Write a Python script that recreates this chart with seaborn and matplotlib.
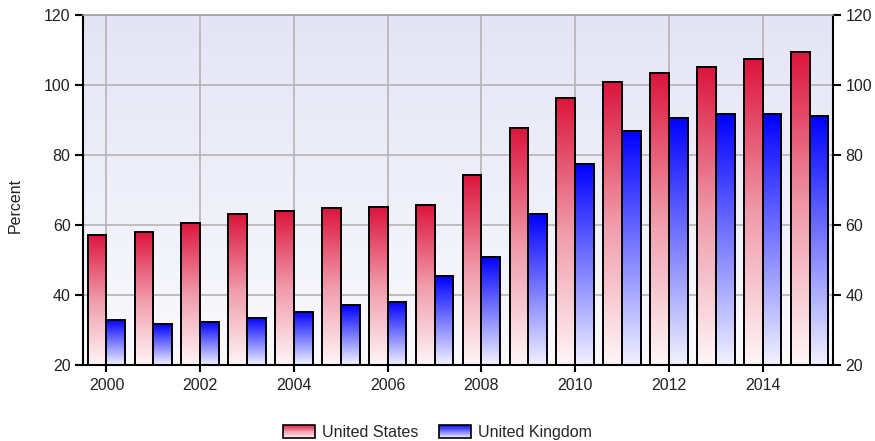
import numpy as np
import pandas as pd
import matplotlib
matplotlib.use("Agg")
import matplotlib.pyplot as plt
import seaborn as sns
from matplotlib.colors import LinearSegmentedColormap
from matplotlib.legend_handler import HandlerBase
from matplotlib.patches import Rectangle

# ---- data ----
years = list(range(2000, 2016))
us_values = [57.2, 58.1, 60.6, 63.1, 64.1, 64.9, 65.1, 65.8,
             74.3, 87.6, 96.4, 100.9, 103.5, 105.2, 107.3, 109.3]
uk_values = [33.0, 31.7, 32.4, 33.5, 35.2, 37.1, 37.9, 45.3,
             50.9, 63.1, 77.5, 86.9, 90.6, 91.6, 91.8, 91.2]
series_names = ["United States", "United Kingdom"]
y_ticks = [20, 40, 60, 80, 100, 120]
x_tick_labels = [str(y) for y in years if y % 2 == 0]

df = pd.DataFrame({
    "Year": [str(y) for y in years] * 2,
    "Percent": us_values + uk_values,
    "Country": [series_names[0]] * len(years) + [series_names[1]] * len(years),
})

# ---- styling ----
sns.set_theme(style="white")
plt.rcParams["font.family"] = ["Liberation Sans", "DejaVu Sans"]
FS = 11.5
plt.rcParams["font.size"] = FS

red_cmap = LinearSegmentedColormap.from_list("red_grad", ["#fff6f8", "#f09aaa", "#dc143c"])
blue_cmap = LinearSegmentedColormap.from_list("blue_grad", ["#f2f2ff", "#7a7aff", "#0000ff"])
bg_cmap = LinearSegmentedColormap.from_list("bg_grad", ["#fafafd", "#e4e4f6"])
cmaps = [red_cmap, blue_cmap]

fig = plt.figure(figsize=(8.75, 4.41), dpi=100)
ax = fig.add_axes([83 / 875, 1 - 365 / 441, (833 - 83) / 875, (365 - 15) / 441])

sns.barplot(data=df, x="Year", y="Percent", hue="Country", hue_order=series_names,
            palette=["#dc143c", "#0000ff"], saturation=1, width=0.8,
            edgecolor="black", linewidth=1.4, legend=False, ax=ax)

y_lo, y_hi = 20, 120
x_lo, x_hi = -0.5, len(years) - 0.5

# plot-area background gradient
grad = np.linspace(0, 1, 256).reshape(-1, 1)
ax.imshow(grad, cmap=bg_cmap, origin="lower", aspect="auto",
          extent=[0, 1, 0, 1], transform=ax.transAxes, zorder=0)

# gradient fill for every bar, clipped to its own rectangle
for container, cmap in zip(ax.containers, cmaps):
    for bar in container:
        x0 = bar.get_x()
        w = bar.get_width()
        top = bar.get_y() + bar.get_height()
        bar.set_facecolor("none")
        bar.set_zorder(3)
        im = ax.imshow(grad, cmap=cmap, origin="lower", aspect="auto",
                       extent=[x0, x0 + w, y_lo, top], zorder=2)
        im.set_clip_path(bar)

ax.set_xlim(x_lo, x_hi)
ax.set_ylim(y_lo, y_hi)

# grid
ax.set_yticks(y_ticks)
ax.set_xticks([i for i, y in enumerate(years) if y % 2 == 0])
ax.set_xticklabels(x_tick_labels)
for yv in y_ticks:
    ax.axhline(yv, color="#b4b4b4", lw=1.2, zorder=1)
for i, y in enumerate(years):
    if y % 2 == 0:
        ax.axvline(i, color="#b4b4b4", lw=1.2, zorder=1)

ax.set_xlabel("")
ax.set_ylabel("Percent", fontsize=FS, color="#222222")
ax.yaxis.set_label_coords(-0.080, 0.457)

for side in ["left", "right", "bottom"]:
    ax.spines[side].set_color("black")
    ax.spines[side].set_linewidth(1.5)
ax.spines["top"].set_color("#a0a0a0")
ax.spines["top"].set_linewidth(1.2)

ax.tick_params(axis="y", which="both", left=True, right=True, labelleft=True, labelright=True,
               direction="out", length=6, width=1.5, color="black", labelsize=FS,
               labelcolor="#222222", pad=3)
ax.tick_params(axis="x", bottom=True, direction="out", length=5, width=1.5, color="black",
               labelsize=FS, labelcolor="#222222", pad=4)


class GradientHandler(HandlerBase):
    def __init__(self, cmap):
        super().__init__()
        self.cmap = cmap

    def create_artists(self, legend, orig_handle, xdescent, ydescent,
                       width, height, fontsize, trans):
        x0, y0 = -xdescent, -ydescent
        n = 24
        artists = []
        for k in range(n):
            r = Rectangle((x0, y0 + height * k / n), width, height / n + 0.05,
                          facecolor=self.cmap((k + 0.5) / n), edgecolor="none",
                          transform=trans)
            artists.append(r)
        outline = Rectangle((x0, y0), width, height, facecolor="none",
                            edgecolor="black", lw=1.2, transform=trans)
        artists.append(outline)
        return artists


handles = [Rectangle((0, 0), 1, 1) for _ in series_names]
fig.legend(handles, series_names, loc="lower center", bbox_to_anchor=(0.5, -0.03),
           ncol=2, frameon=False, fontsize=FS, handlelength=2.0, handleheight=0.9,
           columnspacing=1.3, handletextpad=0.45,
           handler_map={h: GradientHandler(c) for h, c in zip(handles, cmaps)})

fig.savefig("out.png", dpi=100)
